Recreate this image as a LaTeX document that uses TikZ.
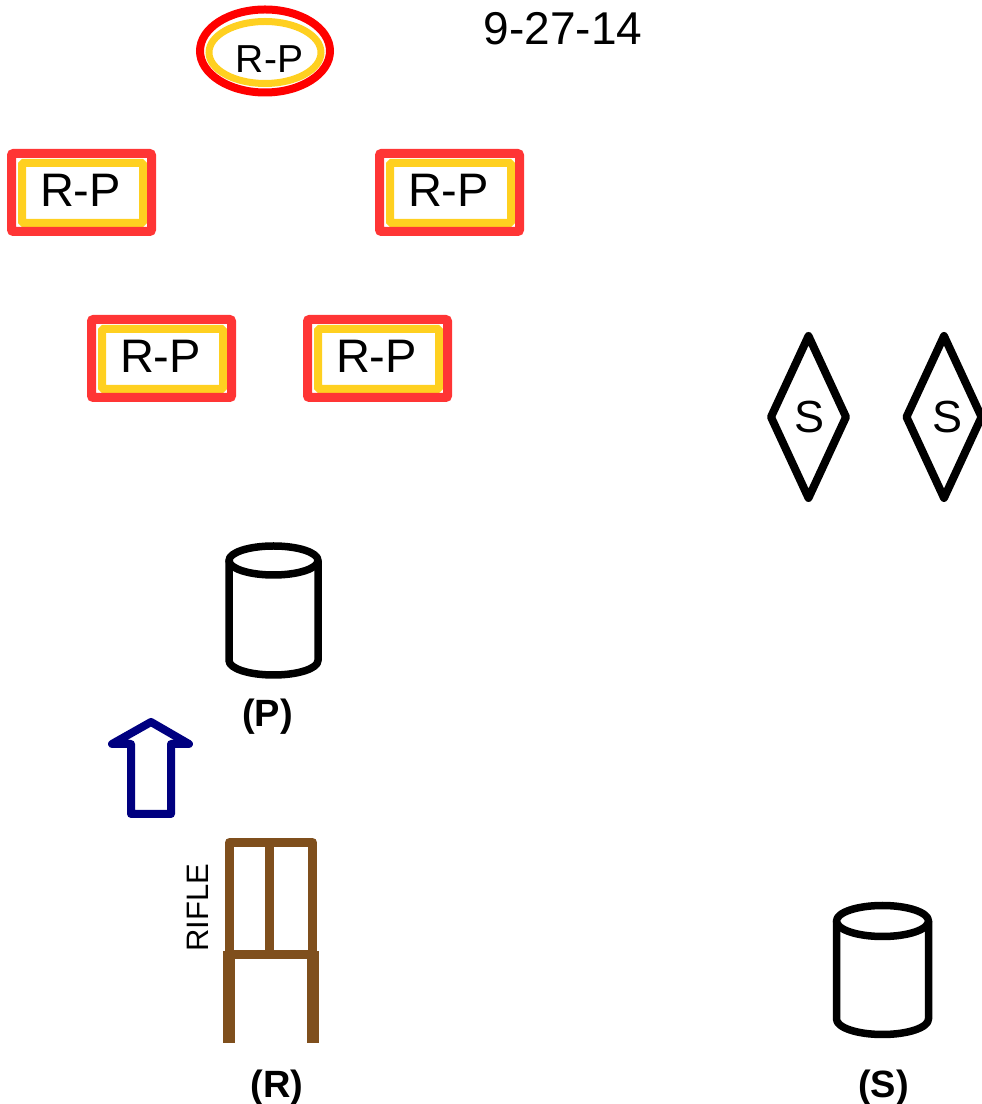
\documentclass[tikz,border=0pt]{standalone}
\usepackage{fontspec}
\setmainfont{Liberation Sans}
\definecolor{rpred}{HTML}{FF3535}
\definecolor{ellred}{HTML}{FF0000}
\definecolor{rpyel}{HTML}{FFD020}
\definecolor{navyarrow}{HTML}{000080}
\definecolor{rackbrown}{HTML}{7F4F1D}
\tikzset{
  yelbox/.style={draw=rpyel, line width=8pt, minimum width=121pt, minimum height=60pt,
    inner sep=0pt, outer sep=0pt, rounded corners=1.5pt, text depth=6pt,
    font=\fontsize{47}{50}\selectfont},
  redframe/.style={draw=rpred, line width=9pt, rounded corners=2pt},
  blk/.style={draw=black, line width=8pt, line join=round, line cap=round},
  cyl/.style={draw=black, line width=7.5pt, line join=round},
  lbl/.style={font=\bfseries\fontsize{38}{40}\selectfont, anchor=base, inner sep=0pt},
  rack/.style={draw=rackbrown, line width=9pt, line join=round},
  leg/.style={fill=rackbrown, draw=none}
}
\begin{document}
\begin{tikzpicture}[x=1pt, y=1pt]
\useasboundingbox (0,0) rectangle (982,1104);
% title
\node[font=\fontsize{46}{50}\selectfont, inner sep=0pt] (date) at (563,1075.5) {9-27-14};
% top ellipse
\draw[draw=ellred, line width=8pt] (265,1053) ellipse [x radius=65, y radius=41.5];
\draw[draw=rpyel, line width=7pt] (265,1051.5) ellipse [x radius=56, y radius=31];
\node[font=\fontsize{39}{42}\selectfont, inner sep=0pt] (e1) at (269.5,1045) {R-P};
% rectangles
\node[yelbox] (r1) at (82.5,911) {R-P\hspace*{4pt}};
\node[yelbox] (r2) at (450.5,911) {R-P\hspace*{4pt}};
\node[yelbox] (r3) at (162.5,745) {R-P\hspace*{4pt}};
\node[yelbox] (r4) at (378.5,745) {R-P\hspace*{4pt}};
\foreach \r in {r1,r2,r3,r4}{
  \draw[redframe] ([shift={(-10.5,9.5)}]\r.north west) rectangle ([shift={(8.5,-8.5)}]\r.south east);
}
% diamonds
\draw[blk] (808.5,768) -- (846,687) -- (808.5,606) -- (771,687) -- cycle;
\node[font=\fontsize{45}{46}\selectfont, inner sep=0pt] (s1) at (810,686.5) {S};
\draw[blk] (944,768) -- (981.5,687) -- (944,606) -- (906.5,687) -- cycle;
\node[font=\fontsize{45}{46}\selectfont, inner sep=0pt] (s2) at (947,686.5) {S};
% cylinder P
\draw[cyl] (273.5,543.5) ellipse [x radius=44.5, y radius=14.5];
\draw[cyl] (229,543.5) -- (229,443.5) arc[start angle=180, end angle=360, x radius=44.5, y radius=14.5] -- (318,543.5);
\node[lbl] (p) at (267.5,377.4) {(P)};
% cylinder S
\draw[cyl] (882.5,183) ellipse [x radius=46, y radius=15.5];
\draw[cyl] (836.5,183) -- (836.5,85) arc[start angle=180, end angle=360, x radius=46, y radius=15.5] -- (928.5,183);
\node[lbl] (s) at (883.5,6.4) {(S)};
% arrow
\draw[draw=navyarrow, line width=8pt, line join=round] (151,382) -- (189,360) -- (171,360) -- (171,290) -- (131,290) -- (131,360) -- (112,360) -- cycle;
% rifle rack
\draw[rack] (229.5,149) -- (229.5,261.5) -- (312.5,261.5) -- (312.5,149) -- cycle;
\draw[rack] (269.5,149) -- (269.5,261.5);
\fill[leg] (223,61) rectangle (235,153);
\fill[leg] (307,61) rectangle (319,153);
\node[font=\fontsize{31}{33}\selectfont, inner sep=0pt, rotate=90] (rifle) at (197.5,196.5) {RIFLE};
\node[lbl] (r) at (277,6.4) {(R)};
\end{tikzpicture}
\end{document}
